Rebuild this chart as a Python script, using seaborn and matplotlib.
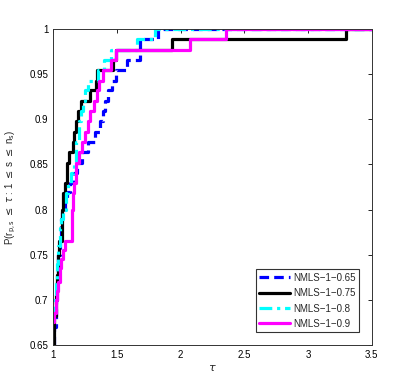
import matplotlib
matplotlib.use("Agg")
import matplotlib.pyplot as plt
import seaborn as sns
import pandas as pd
from matplotlib.ticker import FormatStrFormatter

sns.set_style("white")
plt.rcParams['font.family'] = ['Liberation Sans', 'DejaVu Sans']
plt.rcParams['mathtext.fontset'] = 'dejavusans'

labels = ["NMLS\u22121\u22120.65", "NMLS\u22121\u22120.75", "NMLS\u22121\u22120.8", "NMLS\u22121\u22120.9"]

tau_065 = [1.0, 1.01, 1.02, 1.03, 1.04, 1.05, 1.06, 1.07, 1.09, 1.11, 1.13, 1.16, 1.19, 1.23, 1.27,
           1.30, 1.33, 1.37, 1.39, 1.41, 1.43, 1.46, 1.49, 1.58, 1.68, 1.82, 3.5]
p_065 = [0.65, 0.67, 0.70, 0.72, 0.75, 0.77, 0.79, 0.80, 0.81, 0.82, 0.83, 0.84, 0.852, 0.864, 0.875,
         0.875, 0.886, 0.898, 0.909, 0.92, 0.932, 0.943, 0.955, 0.966, 0.989, 1.0, 1.0]

tau_075 = [1.0, 1.01, 1.02, 1.03, 1.035, 1.045, 1.07, 1.08, 1.09, 1.11, 1.125, 1.157, 1.165, 1.18,
           1.195, 1.21, 1.22, 1.29, 1.32, 1.335, 1.345, 1.47, 1.48, 1.49, 1.93, 3.30, 3.5]
p_075 = [0.65, 0.682, 0.705, 0.727, 0.75, 0.765, 0.80, 0.818, 0.83, 0.852, 0.864, 0.875, 0.886, 0.898,
         0.909, 0.909, 0.92, 0.932, 0.932, 0.943, 0.955, 0.966, 0.966, 0.977, 0.989, 1.0, 1.0]

tau_08 = [1.0, 1.01, 1.02, 1.03, 1.04, 1.05, 1.06, 1.08, 1.10, 1.12, 1.14, 1.16, 1.18, 1.20, 1.22,
          1.235, 1.25, 1.27, 1.35, 1.40, 1.45, 1.66, 1.80, 3.5]
p_08 = [0.68, 0.70, 0.72, 0.74, 0.76, 0.78, 0.79, 0.80, 0.818, 0.83, 0.841, 0.852, 0.875, 0.898, 0.909,
        0.92, 0.932, 0.943, 0.955, 0.966, 0.977, 0.989, 1.0, 1.0]

tau_09 = [1.0, 1.01, 1.02, 1.03, 1.04, 1.05, 1.06, 1.075, 1.09, 1.15, 1.155, 1.165, 1.18, 1.20, 1.23,
          1.25, 1.27, 1.29, 1.32, 1.34, 1.36, 1.39, 1.455, 1.49, 2.07, 2.36, 3.5]
p_09 = [0.675, 0.685, 0.70, 0.71, 0.72, 0.735, 0.745, 0.755, 0.765, 0.80, 0.818, 0.83, 0.852, 0.864,
        0.875, 0.886, 0.898, 0.909, 0.92, 0.932, 0.943, 0.955, 0.966, 0.977, 0.989, 1.0, 1.0]

series = [(tau_065, p_065, 'blue', (0, (3, 1.6))),
          (tau_075, p_075, 'black', '-'),
          (tau_08, p_08, 'cyan', (0, (4, 1.5, 1, 1.5))),
          (tau_09, p_09, 'magenta', '-')]

fig = plt.figure(figsize=(4.09, 3.88), dpi=100)
ax = fig.add_axes([0.13, 0.111, 0.779, 0.814])

for (t, p, c, ls), lab in zip(series, labels):
    df = pd.DataFrame({"tau": t, "P": p})
    sns.lineplot(data=df, x="tau", y="P", ax=ax, color=c, linestyle=ls, lw=2.3,
                 drawstyle='steps-post', label=lab, estimator=None, sort=False)

ax.set_xlim(1, 3.5)
ax.set_ylim(0.65, 1.0)
ax.set_xticks([1, 1.5, 2, 2.5, 3, 3.5])
ax.set_yticks([0.65, 0.7, 0.75, 0.8, 0.85, 0.9, 0.95, 1.0])
ax.xaxis.set_major_formatter(FormatStrFormatter('%g'))
ax.yaxis.set_major_formatter(FormatStrFormatter('%g'))
ax.tick_params(direction='in', length=3, width=0.6, labelsize=7, top=True, right=True, colors='black')
for s in ax.spines.values():
    s.set_color('#333333')
    s.set_linewidth(0.7)
ax.set_xlabel(r'$\tau$', fontsize=8, labelpad=2)
ax.set_ylabel(r'P(r$_{\rm p,s}$ $\leq$ $\tau$ : 1 $\leq$ s $\leq$ n$_{\rm s}$)', fontsize=7, labelpad=8)

leg = ax.legend(loc='lower right', fontsize=7, frameon=True, fancybox=False, edgecolor='black',
                handlelength=3.2, borderpad=0.35, labelspacing=0.55, handletextpad=0.3,
                borderaxespad=1.3)
leg.get_frame().set_linewidth(0.8)

fig.savefig("out.png", dpi=100, facecolor='white')
